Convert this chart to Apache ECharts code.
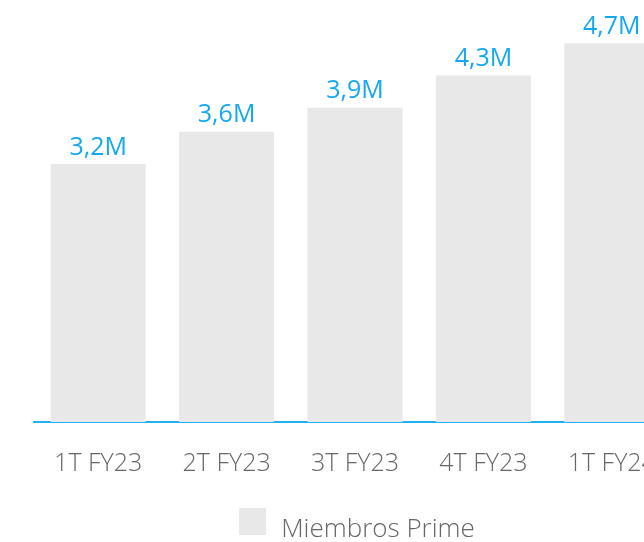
<!DOCTYPE html>
<html>
<head>
<meta charset="utf-8">
<style>
  html, body { margin: 0; padding: 0; background: #ffffff; overflow: hidden; }
  #chart { width: 714px; height: 542px; }
</style>
<script src="https://cdn.jsdelivr.net/npm/echarts@6/dist/echarts.min.js"></script>
</head>
<body>
<div id="chart"></div>
<script>
// Quarterly Prime membership, in millions
const quarters = ['1T FY23', '2T FY23', '3T FY23', '4T FY23', '1T FY24'];
const members = [3.2, 3.6, 3.9, 4.3, 4.7];
const seriesName = 'Miembros Prime';

const chart = echarts.init(document.getElementById('chart'), null, { renderer: 'canvas' });

chart.setOption({
  animation: false,
  textStyle: { fontFamily: 'Open Sans' },
  grid: { left: 34, right: 38, top: 19, bottom: 120, containLabel: false },
  legend: {
    top: 503,
    left: 'center',
    itemWidth: 27,
    itemHeight: 27,
    itemGap: 10,
    icon: 'rect',
    formatter: name => '{t|' + name + '}',
    textStyle: {
      color: '#666666', fontSize: 26, fontWeight: 300, fontFamily: 'Open Sans',
      rich: { t: { color: '#666666', fontSize: 26, fontWeight: 300, fontFamily: 'Open Sans', padding: [16, 0, 0, 10] } }
    },
    data: [seriesName]
  },
  xAxis: {
    type: 'category',
    data: quarters,
    axisLine: { show: true, lineStyle: { color: '#1fb0f5', width: 2 } },
    axisTick: { show: false },
    axisLabel: { color: '#666666', fontSize: 25, fontWeight: 300, margin: 29, fontFamily: 'Open Sans' }
  },
  yAxis: {
    type: 'value',
    min: 0,
    max: 5,
    show: false,
    splitLine: { show: false }
  },
  series: [{
    name: seriesName,
    type: 'bar',
    data: members,
    barWidth: 95,
    itemStyle: { color: '#e8e8e8' },
    label: {
      show: true,
      position: 'top',
      distance: 4,
      color: '#12a9f0',
      fontSize: 25,
      fontFamily: 'Open Sans',
      formatter: p => p.value.toFixed(1).replace('.', ',') + 'M'
    }
  }]
});
</script>
</body>
</html>
